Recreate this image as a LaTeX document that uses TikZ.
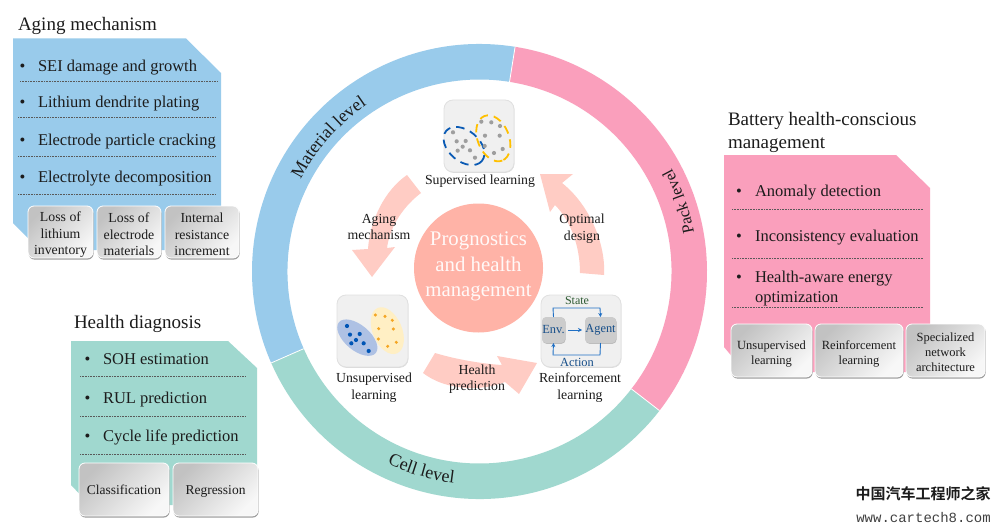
\documentclass[tikz,border=0pt]{standalone}
\usepackage{fontspec}
\setmainfont{Liberation Serif}
\newfontfamily\cjkwm{Noto Sans CJK SC}[BoldFont={Noto Sans CJK SC Bold}]
\newfontfamily\monowm{Liberation Mono}
\usetikzlibrary{shadows,decorations.text,arrows.meta,calc}
\definecolor{ringblue}{HTML}{99CBEB}
\definecolor{ringpink}{HTML}{FA9FBC}
\definecolor{ringteal}{HTML}{A0D8CF}
\definecolor{hubcol}{HTML}{FFB3A7}
\definecolor{flowcol}{HTML}{FFCCC4}
\definecolor{inkcol}{HTML}{1C1C1C}
\definecolor{rlblue}{HTML}{1F6FC4}
\definecolor{dashblue}{HTML}{0A5AB4}
\definecolor{dashgold}{HTML}{FFC000}
\definecolor{blobblue}{HTML}{AEC1E4}
\definecolor{blobgold}{HTML}{FFEFC4}
\definecolor{dotblue}{HTML}{0055B5}
\definecolor{dotgold}{HTML}{F5A623}
\definecolor{stategreen}{HTML}{2D5A32}
\newcommand{\fsz}[2]{\fontsize{#1}{#2}\selectfont}
\newcommand{\tallline}[1]{\rule{0pt}{#1}}
\tikzset{
  every node/.style={text=inkcol,inner sep=0pt,outer sep=0pt},
  heading/.style={anchor=base west,font=\fsz{19}{23},align=left},
  item/.style={anchor=base west,font=\fsz{16.5}{20},align=left},
  bulletmark/.style={anchor=base,font=\fsz{16.5}{20}},
  rule/.style={draw=black!65,line width=.5pt,dash pattern=on .7pt off .9pt},
  subbox/.style={draw=white,line width=.8pt,rounded corners=6pt,align=center,
    shading=axis,top color=black!24,bottom color=black!3,shading angle=45,
    drop shadow={shadow xshift=.6pt,shadow yshift=-1.6pt,fill=black!55,opacity=.7}},
  iconbox/.style={draw=black!12,line width=.8pt,fill=black!6,rounded corners=9pt,
    drop shadow={shadow xshift=.4pt,shadow yshift=-.8pt,fill=black!30,opacity=.5}},
  caption/.style={font=\fsz{13.8}{16.5},align=center},
  rltext/.style={text=rlblue!70!black,font=\fsz{12.4}{14}},
  rlnode/.style={fill=black!20,rounded corners=4pt,
    drop shadow={shadow xshift=.5pt,shadow yshift=-.8pt,fill=black!40,opacity=.6}},
  rlline/.style={draw=rlblue,line width=.9pt},
  rlarrow/.style={rlline,-{Stealth[length=4pt,width=4pt]}},
  flow/.style={fill=flowcol,draw=none},
}
\begin{document}
\begin{tikzpicture}[x=1pt,y=-1pt]
\useasboundingbox (0,0) rectangle (1001,532);
\fill[white] (0,0) rectangle (1001,532);

% ring
\begin{scope}[shift={(479.5,271.5)},x=1pt,y=1pt]
  \fill[ringblue] (81:227.5pt) arc[start angle=81,end angle=203.7,radius=227.5pt] -- (203.7:192pt) arc[start angle=203.7,end angle=81,radius=192pt] -- cycle;
  \fill[ringteal] (203.7:227.5pt) arc[start angle=203.7,end angle=322.3,radius=227.5pt] -- (322.3:192pt) arc[start angle=322.3,end angle=203.7,radius=192pt] -- cycle;
  \fill[ringpink] (-37.7:227.5pt) arc[start angle=-37.7,end angle=81,radius=227.5pt] -- (81:192pt) arc[start angle=81,end angle=-37.7,radius=192pt] -- cycle;
  \draw[white,line width=.8pt] (81:192pt) -- (81:227.5pt) (203.7:192pt) -- (203.7:227.5pt) (-37.7:192pt) -- (-37.7:227.5pt);
  \path[decorate,decoration={text along path,text align=center,text={|\fsz{18}{20}\color{inkcol}|Material level}}]
    (160:201pt) arc[start angle=160,end angle=116.8,radius=201pt];
  \path[decorate,decoration={text along path,text align=center,text={|\fsz{18}{20}\color{inkcol}|Cell level}}]
    (233:213pt) arc[start angle=233,end angle=274.4,radius=213pt];
  \path[decorate,decoration={text along path,text align=center,text={|\fsz{16.5}{20}\color{inkcol}|Pack level}}]
    (-3:218pt) arc[start angle=-3,end angle=41.6,radius=218pt];
\end{scope}

% flow arrows
\fill[flow] (407,175) .. controls (385,190) and (370,220) .. (368,249) -- (352,250) -- (372,277) -- (395,247) -- (387,248) .. controls (390,225) and (405,205) .. (421,193) -- cycle;
\fill[flow] (562,183) .. controls (590,205) and (606,245) .. (604,275) -- (580,273) .. controls (580,245) and (570,220) .. (555,205) -- (550,212) -- (540,174) -- (573,174) -- cycle;
\fill[flow] (435,353) .. controls (458,360) and (485,364) .. (502,365) -- (497,356) -- (537,363) -- (519,394) -- (505,382) .. controls (480,392) and (445,390) .. (423,373) -- cycle;

% hub
\node[circle,fill=hubcol,minimum size=129pt,align=center,text=white!92!hubcol,font=\fsz{20.8}{25.5}] (hub) at (478.5,268)
  {Prognostics\\and health\\management\rule[-7.5pt]{0pt}{0pt}};

% icon boxes
\node[iconbox,minimum width=70pt,minimum height=72pt] (supbox) at (479,136) {};
\node[iconbox,minimum width=71pt,minimum height=72pt] (unsbox) at (372.5,331) {};
\node[iconbox,minimum width=80pt,minimum height=72pt] (rlbox) at (581,331) {};

% supervised icon
\begin{scope}[shift={(320,80)},x=.3333pt,y=-.3333pt]
  \draw[dashblue,line width=1.8pt,dash pattern=on 8.5pt off 6pt,rotate around={-40:(432,198)}] (432,198) ellipse (70 and 46);
  \draw[dashgold,line width=1.8pt,dash pattern=on 8.5pt off 6pt,rotate around={-68:(520,175)}] (520,175) ellipse (72 and 47);
  \foreach \x/\y in {399/157,410/184,437/183,428/200,413/212,450/211,465/233,484/125,514/127,540/138,495/167,539/167,494/198,548/207,522/219}
    \fill[black!38] (\x,\y) circle (2.1pt);
  % unsupervised icon
  \fill[blobblue,rotate around={-40:(112,773)}] (112,773) ellipse (72 and 38);
  \fill[blobgold,rotate around={-67:(202,752)}] (202,752) ellipse (74 and 44);
  \foreach \x/\y in {81/738,90/764,119/762,108/780,94/790,131/790,146/813}
    \fill[dotblue] (\x,\y) circle (2.1pt);
  \foreach \x/\y in {166/705,195/709,217/721,176/746,220/747,175/777,229/787,203/799}
    \fill[dotgold] (\x,\y) circle (1.7pt);
\end{scope}

% RL icon
\node[rlnode,minimum width=23pt,minimum height=26pt,rltext] (env) at (553.5,330) {Env.};
\node[rlnode,minimum width=31pt,minimum height=26pt,rltext] (agent) at (600.5,330) {Agent};
\coordinate (st1) at (553,308);
\coordinate (st2) at (600,308);
\coordinate (ac1) at (600,355);
\coordinate (ac2) at (553,355);
\draw[rlarrow] (env.north) -- (st1) -- (st2) -- (agent.north);
\draw[rlarrow] (agent.south) -- (ac1) -- (ac2) -- (env.south);
\draw[rlarrow] ($(env.east)+(3,0)$) -- ($(agent.west)+(-3,0)$);
\node[font=\fsz{12}{14},text=stategreen] (rlstate) at (577,301) {State};
\node[rltext] (rlaction) at (577,362) {Action};

% captions
\node[caption] (capsup) at (480,181) {Supervised learning};
\node[caption] (capuns) at (374,387.5) {Unsupervised\\learning};
\node[caption] (caprl) at (580,387.5) {Reinforcement\\learning};
\node[caption] (capag) at (379,227) {Aging\\mechanism};
\node[caption] (capop) at (582,228.5) {Optimal\\design};
\node[caption] (caphp) at (477,379) {Health\\prediction};

% Aging panel
\node[heading] (h1) at (18,30.7) {Aging mechanism};
\fill[ringblue] (13,38.5) -- (186,38.5) -- (221,73) -- (221,250) -- (40,250) -- (13,223) -- cycle;
\foreach \n/\y/\t in {a/71.2/SEI damage and growth,b/107.2/Lithium dendrite plating,c/145.5/Electrode particle cracking,d/182.5/Electrolyte decomposition}{
  \node[bulletmark] (bu\n) at (22.5,\y) {•};
  \node[item] (it\n) at (38,\y) {\t};
}
\draw[rule] (20,81) -- (218,81);
\draw[rule] (18,117) -- (216,117);
\draw[rule] (18,156) -- (216,156);
\draw[rule] (18,194) -- (216,194);
\node[subbox,minimum width=65pt,minimum height=52pt,font=\fsz{13.8}{16.5}] (aa) at (60.5,232) {\tallline{15pt}Loss of\\lithium\\inventory};
\node[subbox,minimum width=64pt,minimum height=52pt,font=\fsz{13.8}{16.5}] (ab) at (129,232) {\tallline{15pt}Loss of\\electrode\\materials};
\node[subbox,minimum width=74pt,minimum height=52pt,font=\fsz{13.8}{16.5}] (ac) at (202,232) {\tallline{15pt}Internal\\resistance\\increment};

% Health diagnosis panel
\node[heading] (h2) at (74,328) {Health diagnosis};
\fill[ringteal] (71,341) -- (228,341) -- (257,368) -- (257,505) -- (90,505) -- (71,485) -- cycle;
\foreach \n/\y/\t in {a/364/SOH estimation,b/403.3/RUL prediction,c/441.7/Cycle life prediction}{
  \node[bulletmark] (bv\n) at (87.5,\y) {•};
  \node[item] (iv\n) at (103,\y) {\t};
}
\draw[rule] (80,376) -- (246,376);
\draw[rule] (80,416) -- (246,416);
\draw[rule] (80,454) -- (246,454);
\node[subbox,minimum width=90pt,minimum height=53pt,font=\fsz{13.5}{16},text height=11pt,text depth=2pt] (ca) at (124,489.5) {Classification};
\node[subbox,minimum width=85pt,minimum height=53pt,font=\fsz{13.5}{16},text height=11pt,text depth=2pt] (cb) at (215.5,489.5) {Regression};

% Battery panel
\node[heading,anchor=north west] (h3) at (728,112.5) {Battery health-conscious\\management};
\fill[ringpink] (724,155) -- (896,155) -- (930,188) -- (930,372) -- (745,372) -- (724,347) -- cycle;
\foreach \n/\y/\t in {a/196.7/Anomaly detection,b/241.7/Inconsistency evaluation,c/282.7/Health-aware energy}{
  \node[bulletmark] (bw\n) at (739,\y) {•};
  \node[item] (iw\n) at (755,\y) {\t};
}
\node[item] (iwd) at (755,302.7) {optimization};
\draw[rule] (732,209) -- (923,209);
\draw[rule] (732,258) -- (923,258);
\draw[rule] (732,307) -- (923,307);
\node[subbox,minimum width=81pt,minimum height=53pt,font=\fsz{12.5}{15}] (pa) at (771.5,350.5) {\tallline{15pt}Unsupervised\\learning};
\node[subbox,minimum width=88pt,minimum height=53pt,font=\fsz{12.5}{15}] (pb) at (859,350.5) {\tallline{15pt}Reinforcement\\learning};
\node[subbox,minimum width=79pt,minimum height=53pt,font=\fsz{12.5}{15}] (pc) at (945.5,350.5) {\tallline{13pt}Specialized\\network\\architecture};

% watermark
\node[font=\cjkwm\bfseries\fsz{15}{18}] (wm1) at (923,494) {中国汽车工程师之家};
\node[font=\monowm\fsz{14}{16},text=black!75] (wm2) at (923.5,517) {www.cartech8.com};
\end{tikzpicture}
\end{document}
